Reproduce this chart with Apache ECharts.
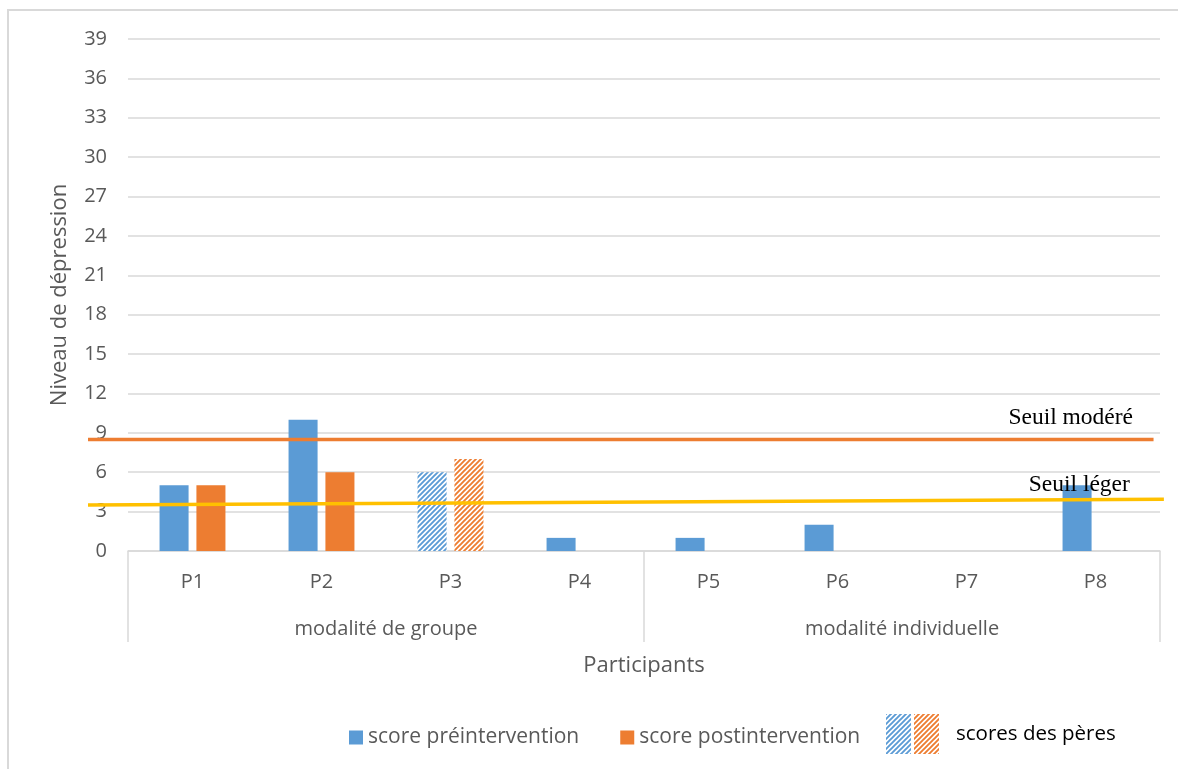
<!DOCTYPE html>
<html>
<head>
<meta charset="utf-8">
<script src="https://cdn.jsdelivr.net/npm/echarts@6/dist/echarts.min.js"></script>
<style>
  html, body { margin: 0; padding: 0; background: #fff; overflow: hidden; }
  #chart { width: 1178px; height: 769px; }
</style>
</head>
<body>
<div id="chart"></div>
<script>
// ---- Data ----
const categories = ['P1', 'P2', 'P3', 'P4', 'P5', 'P6', 'P7', 'P8'];
const groups = ['modalité de groupe', 'modalité individuelle'];
const preScores = [5, 10, null, 1, 1, 2, 0, 5];
const postScores = [5, 6, null, null, null, null, null, null];
const fatherPreScores = [null, null, 6, null, null, null, null, null];
const fatherPostScores = [null, null, 7, null, null, null, null, null];
const yMin = 0, yMax = 39, yStep = 3;
// threshold lines (x in category units, 0 = left edge of P1; y in score units)
const seuilModereX = [-0.31, 7.95];
const seuilModereY = [8.5, 8.5];
const seuilLegerX = [-0.31, 8.03];
const seuilLegerY = [3.5, 3.94];

// ---- Styles ----
const BLUE = '#5B9BD5', ORANGE = '#ED7D31', YELLOW = '#FFC000';
const GRID = '#d9d9d9', TEXT = '#595959';
const FONT = 'Open Sans';

function hatch(color) {
  const s = 5;
  const c = document.createElement('canvas');
  c.width = s; c.height = s;
  const ctx = c.getContext('2d');
  ctx.fillStyle = '#ffffff';
  ctx.fillRect(0, 0, s, s);
  ctx.strokeStyle = color;
  ctx.lineWidth = 1.9;
  ctx.beginPath();
  for (let k = -1; k <= 1; k++) {
    ctx.moveTo(k * s - 1, s + 1);
    ctx.lineTo(k * s + s + 1, -1);
  }
  ctx.stroke();
  return { image: c, repeat: 'repeat' };
}

function zip(xs, ys) { return xs.map((x, i) => [x, ys[i]]); }

// overlay grid spanning the threshold lines' extent, same vertical scale as main grid
const mainLeft = 128, mainRight = 18;
const catPx = (1178 - mainLeft - mainRight) / categories.length;
const allX = seuilModereX.concat(seuilLegerX);
const ovMin = Math.min.apply(null, allX), ovMax = Math.max.apply(null, allX);
const ovLeft = mainLeft + ovMin * catPx;
const ovRight = 1178 - (mainLeft + ovMax * catPx);

const chart = echarts.init(document.getElementById('chart'), null, { renderer: 'canvas' });

const seuilLabel = (offset) => ({
  show: true,
  position: 'inside',
  formatter: p => (p.dataIndex === 1 ? p.seriesName : ''),
  align: 'right',
  verticalAlign: 'bottom',
  offset: offset,
  fontFamily: 'Liberation Serif',
  fontSize: 23.5,
  color: '#000'
});

chart.setOption({
  animation: false,
  backgroundColor: '#fff',
  textStyle: { fontFamily: FONT },
  graphic: [{
    type: 'rect', silent: true, z: -10,
    shape: { x: 8, y: 10, width: 1300, height: 900 },
    style: { fill: 'none', stroke: GRID, lineWidth: 2 }
  }],
  grid: [
    { left: mainLeft, right: mainRight, top: 39, bottom: 218, containLabel: false },
    { left: ovLeft, right: ovRight, top: 39, bottom: 218, containLabel: false }
  ],
  legend: [{
    left: 344, top: 722,
    icon: 'rect', itemWidth: 14, itemHeight: 14, itemGap: 41,
    data: ['score préintervention', 'score postintervention'],
    textStyle: { fontSize: 21, color: TEXT, fontFamily: FONT }
  }, {
    left: 881, top: 709,
    icon: 'rect', itemWidth: 25, itemHeight: 40, itemGap: 3,
    data: ['scores des pères (pré)', 'scores des pères'],
    formatter: n => (n === 'scores des pères' ? '{t|' + n + '}' : ''),
    textStyle: {
      fontSize: 20, color: '#000', fontFamily: FONT,
      rich: { t: { fontSize: 20.5, color: '#000', fontFamily: FONT, padding: [0, 0, 0, 12] } }
    }
  }],
  xAxis: [{
    type: 'category', data: categories, position: 'bottom', gridIndex: 0,
    axisLine: { show: true, lineStyle: { color: GRID, width: 1.5 } },
    axisTick: { show: false },
    axisLabel: { fontSize: 20, color: TEXT, margin: 21, fontFamily: FONT }
  }, {
    type: 'category', data: groups, position: 'bottom', gridIndex: 0,
    axisLine: { show: false },
    axisTick: { show: true, length: 91, lineStyle: { color: GRID, width: 1.5 } },
    axisLabel: { fontSize: 20, color: TEXT, margin: 68, fontFamily: FONT },
    name: 'Participants', nameLocation: 'middle', nameGap: 104,
    nameTextStyle: { fontSize: 22, color: TEXT, fontFamily: FONT }
  }, {
    type: 'value', gridIndex: 1, min: ovMin, max: ovMax, show: false
  }],
  yAxis: [{
    type: 'value', gridIndex: 0, min: yMin, max: yMax, interval: yStep,
    axisLine: { show: false }, axisTick: { show: false },
    splitLine: { lineStyle: { color: GRID, width: 1.5 } },
    axisLabel: { fontSize: 20, color: TEXT, margin: 21, fontFamily: FONT },
    name: 'Niveau de dépression', nameLocation: 'middle', nameGap: 57,
    nameTextStyle: { fontSize: 22, color: TEXT, fontFamily: FONT }
  }, {
    type: 'value', gridIndex: 1, min: yMin, max: yMax, interval: yStep, show: false
  }],
  series: [{
    name: 'score préintervention', type: 'bar', stack: 'pre',
    data: preScores, barWidth: '22.5%', barGap: '27%',
    itemStyle: { color: BLUE }
  }, {
    name: 'score postintervention', type: 'bar', stack: 'post',
    data: postScores, barWidth: '22.5%', barGap: '27%',
    itemStyle: { color: ORANGE }
  }, {
    name: 'scores des pères (pré)', type: 'bar', stack: 'pre',
    data: fatherPreScores, barWidth: '22.5%', barGap: '27%',
    itemStyle: { color: hatch(BLUE) }
  }, {
    name: 'scores des pères', type: 'bar', stack: 'post',
    data: fatherPostScores, barWidth: '22.5%', barGap: '27%',
    itemStyle: { color: hatch(ORANGE) }
  }, {
    name: 'Seuil modéré', type: 'line', xAxisIndex: 2, yAxisIndex: 1, clip: false,
    data: zip(seuilModereX, seuilModereY),
    symbol: 'circle', symbolSize: 1, showSymbol: true,
    itemStyle: { color: 'rgba(0,0,0,0)' },
    lineStyle: { color: ORANGE, width: 3.5 },
    label: seuilLabel([-20.5, -10]),
    z: 5
  }, {
    name: 'Seuil léger', type: 'line', xAxisIndex: 2, yAxisIndex: 1, clip: false,
    data: zip(seuilLegerX, seuilLegerY),
    symbol: 'circle', symbolSize: 1, showSymbol: true,
    itemStyle: { color: 'rgba(0,0,0,0)' },
    lineStyle: { color: YELLOW, width: 3.5 },
    label: seuilLabel([-34, -2]),
    z: 5
  }]
});
</script>
</body>
</html>
